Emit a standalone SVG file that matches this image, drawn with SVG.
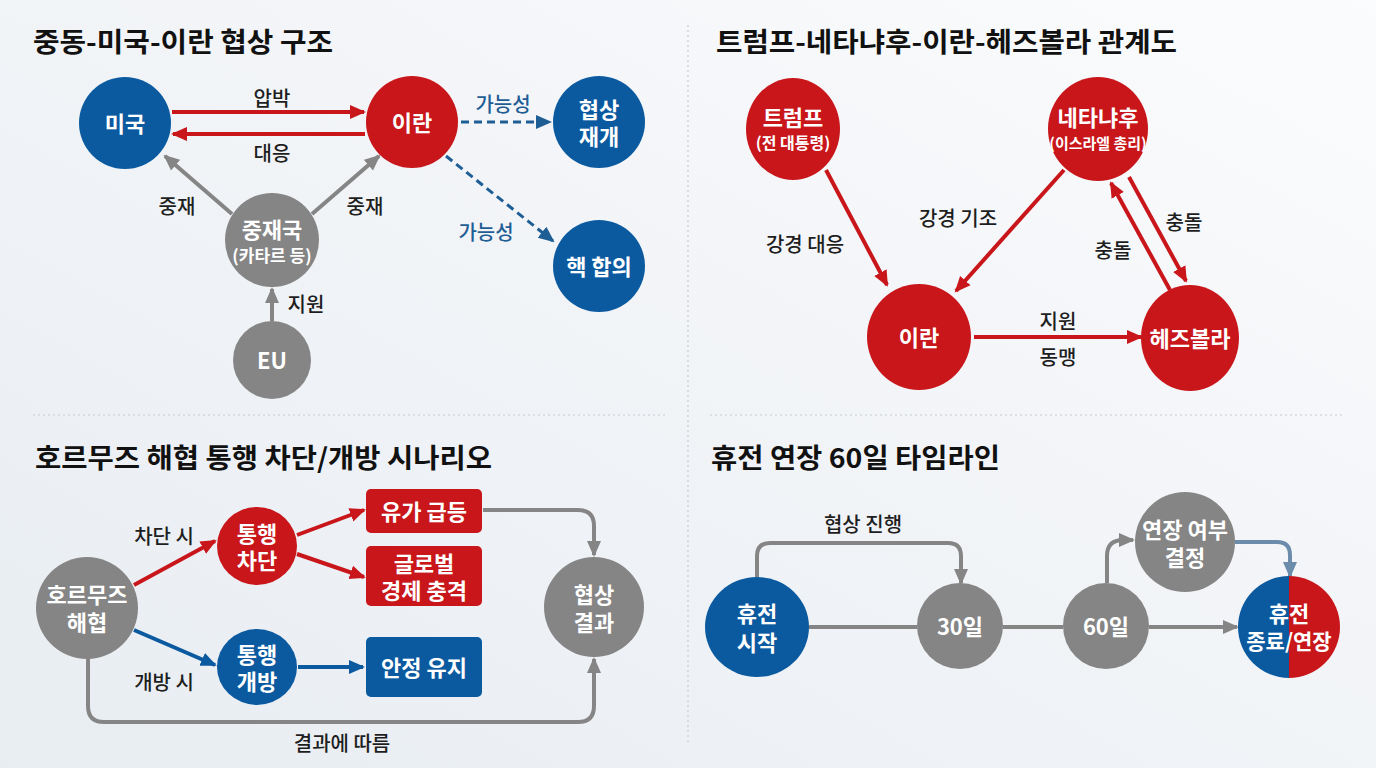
<svg xmlns="http://www.w3.org/2000/svg" width="1376" height="768" viewBox="0 0 1376 768">
<defs>
<linearGradient id="bg" x1="0" y1="1" x2="1" y2="0">
<stop offset="0" stop-color="#e8edf2"/>
<stop offset="0.6" stop-color="#f3f5f8"/>
<stop offset="1" stop-color="#fbfcfd"/>
</linearGradient>
<marker id="ar" markerUnits="userSpaceOnUse" markerWidth="18" markerHeight="16" refX="14" refY="8" orient="auto"><path d="M0,1 L16,8 L0,15 z" fill="#c8161b"/></marker>
<marker id="ab" markerUnits="userSpaceOnUse" markerWidth="18" markerHeight="16" refX="14" refY="8" orient="auto"><path d="M0,1 L16,8 L0,15 z" fill="#0b5aa0"/></marker>
<marker id="abd" markerUnits="userSpaceOnUse" markerWidth="18" markerHeight="16" refX="14" refY="8" orient="auto"><path d="M0,1 L16,8 L0,15 z" fill="#1f5d95"/></marker>
<marker id="ag" markerUnits="userSpaceOnUse" markerWidth="18" markerHeight="16" refX="14" refY="8" orient="auto"><path d="M0,1 L16,8 L0,15 z" fill="#858585"/></marker>
<marker id="abg" markerUnits="userSpaceOnUse" markerWidth="18" markerHeight="16" refX="14" refY="8" orient="auto"><path d="M0,1 L16,8 L0,15 z" fill="#6b8cab"/></marker>
</defs>
<style>
text{font-family:"Noto Sans CJK KR","Noto Sans",sans-serif}
.title{font-size:27px;font-weight:700;fill:#111}
.nt{font-size:22px;font-weight:700;fill:#fff;text-anchor:middle;dominant-baseline:central}
.ns{font-size:16px;font-weight:700;fill:#fff;text-anchor:middle;dominant-baseline:central}
.lb{font-size:20px;font-weight:500;fill:#1e1e1e;text-anchor:middle;dominant-baseline:central}
.lbb{font-size:20px;font-weight:500;fill:#1f5d95;text-anchor:middle;dominant-baseline:central}
.blue{fill:#0b5aa0}
.red{fill:#c8161b}
.gray{fill:#858585}
.cr{stroke:#c8161b;stroke-width:4;fill:none}
.cb{stroke:#0b5aa0;stroke-width:4;fill:none}
.cd{stroke:#1f5d95;stroke-width:3;fill:none;stroke-dasharray:8 5}
.cg{stroke:#858585;stroke-width:4;fill:none}
.cbg{stroke:#6b8cab;stroke-width:4;fill:none}
.div{stroke:#c6cbd1;stroke-width:1.2;stroke-dasharray:2 3;fill:none}
</style>
<rect x="0" y="0" width="1376" height="768" fill="url(#bg)"/>
<g id="dividers">
<line class="div" x1="688" y1="25" x2="688" y2="742"/>
<line class="div" x1="33" y1="415" x2="665" y2="415"/>
<line class="div" x1="710" y1="415" x2="1343" y2="415"/>
</g>
<g id="titles">
<text class="title" x="33" y="52" textLength="300" lengthAdjust="spacingAndGlyphs">중동-미국-이란 협상 구조</text>
<text class="title" x="716" y="52" textLength="461" lengthAdjust="spacingAndGlyphs">트럼프-네타냐후-이란-헤즈볼라 관계도</text>
<text class="title" x="35" y="468" textLength="457" lengthAdjust="spacingAndGlyphs">호르무즈 해협 통행 차단/개방 시나리오</text>
<text class="title" x="711" y="468" textLength="289" lengthAdjust="spacingAndGlyphs">휴전 연장 60일 타임라인</text>
</g>
<g id="connectors">
<path class="cr" d="M172,112 L364,112" marker-end="url(#ar)"/>
<path class="cr" d="M365,134 L173,134" marker-end="url(#ar)"/>
<path class="cd" d="M461,122 L550,122" marker-end="url(#abd)"/>
<path class="cd" d="M446,156 L553,241" marker-end="url(#abd)"/>
<path class="cg" d="M232,214 L165,156" marker-end="url(#ag)"/>
<path class="cg" d="M312,214 L379,156" marker-end="url(#ag)"/>
<path class="cg" d="M272,321 L272,289" marker-end="url(#ag)"/>
<path class="cr" d="M826,170 L887,285" marker-end="url(#ar)"/>
<path class="cr" d="M1064,170 L956,291" marker-end="url(#ar)"/>
<path class="cr" d="M1129,177 L1186,281" marker-end="url(#ar)"/>
<path class="cr" d="M1170,290 L1111,183" marker-end="url(#ar)"/>
<path class="cr" d="M974,337 L1141,337" marker-end="url(#ar)"/>
<path class="cr" d="M134,585 L215,541" marker-end="url(#ar)"/>
<path class="cr" d="M297,535 L364,510" marker-end="url(#ar)"/>
<path class="cr" d="M297,554 L364,577" marker-end="url(#ar)"/>
<path class="cb" d="M134,630 L215,665" marker-end="url(#ab)"/>
<path class="cb" d="M298,667 L363,667" marker-end="url(#ab)"/>
<path class="cg" d="M483,510 L578,510 Q594,510 594,526 L594,555" marker-end="url(#ag)"/>
<path class="cg" d="M88,658 L88,706 Q88,722 104,722 L578,722 Q594,722 594,706 L594,659" marker-end="url(#ag)"/>
<path class="cg" d="M809,627 L917,627"/>
<path class="cg" d="M1003,627 L1063,627"/>
<path class="cg" d="M1149,627 L1237,627" marker-end="url(#ag)"/>
<path class="cg" d="M757,577 L757,556 Q757,543 770,543 L948,543 Q961,543 961,556 L961,583" marker-end="url(#ag)"/>
<path class="cg" d="M1107,583 L1107,556 Q1107,540 1123,540 L1133,540" marker-end="url(#ag)"/>
<path class="cbg" d="M1235,542 L1277,542 Q1290,542 1290,555 L1290,576" marker-end="url(#abg)"/>
</g>
<g id="labels">
<text class="lb" x="272" y="97">압박</text>
<text class="lb" x="272" y="152">대응</text>
<text class="lbb" x="503" y="103">가능성</text>
<text class="lbb" x="486" y="231">가능성</text>
<text class="lb" x="177" y="205">중재</text>
<text class="lb" x="365" y="205">중재</text>
<text class="lb" x="306" y="303">지원</text>
<text class="lb" x="805" y="243">강경 대응</text>
<text class="lb" x="958" y="217">강경 기조</text>
<text class="lb" x="1184" y="221">충돌</text>
<text class="lb" x="1113" y="249">충돌</text>
<text class="lb" x="1058" y="320">지원</text>
<text class="lb" x="1058" y="356">동맹</text>
<text class="lb" x="164" y="535">차단 시</text>
<text class="lb" x="164" y="681">개방 시</text>
<text class="lb" x="342" y="742">결과에 따름</text>
<text class="lb" x="863" y="523">협상 진행</text>
</g>
<g id="n-usa"><circle class="blue" cx="125" cy="123" r="46"/><text class="nt" x="125" y="122">미국</text></g>
<g id="n-iran1"><circle class="red" cx="412" cy="122" r="46"/><text class="nt" x="412" y="121">이란</text></g>
<g id="n-resume"><circle class="blue" cx="599" cy="122" r="46"/><text class="nt" x="599" y="108"><tspan x="599">협상</tspan><tspan x="599" dy="27">재개</tspan></text></g>
<g id="n-nuke"><circle class="blue" cx="599" cy="266" r="46"/><text class="nt" x="599" y="265">핵 합의</text></g>
<g id="n-mediator"><circle class="gray" cx="272" cy="240" r="47"/><text class="nt" x="272" y="228"><tspan x="272">중재국</tspan><tspan x="272" dy="26" style="font-size:17px">(카타르 등)</tspan></text></g>
<g id="n-eu"><circle class="gray" cx="272" cy="360" r="39"/><text class="nt" x="272" y="359">EU</text></g>
<g id="n-trump"><ellipse class="red" cx="793" cy="129" rx="47" ry="51"/><text class="nt" x="793" y="116"><tspan x="793">트럼프</tspan><tspan x="793" dy="26" style="font-size:16px">(전 대통령)</tspan></text></g>
<g id="n-netanyahu"><ellipse class="red" cx="1098" cy="129" rx="50" ry="52"/><text class="nt" x="1098" y="116"><tspan x="1098">네타냐후</tspan><tspan x="1098" dy="26" style="font-size:15px">(이스라엘 총리)</tspan></text></g>
<g id="n-iran2"><ellipse class="red" cx="919" cy="337" rx="52" ry="53"/><text class="nt" x="919" y="336">이란</text></g>
<g id="n-hezbollah"><ellipse class="red" cx="1190" cy="338" rx="49" ry="53"/><text class="nt" x="1190" y="337">헤즈볼라</text></g>
<g id="n-hormuz"><circle class="gray" cx="87" cy="608" r="51"/><text class="nt" x="87" y="593"><tspan x="87">호르무즈</tspan><tspan x="87" dy="28">해협</tspan></text></g>
<g id="n-block"><ellipse class="red" cx="257" cy="546" rx="40" ry="39"/><text class="nt" x="257" y="532"><tspan x="257">통행</tspan><tspan x="257" dy="27">차단</tspan></text></g>
<g id="n-open"><ellipse class="blue" cx="257" cy="667" rx="40" ry="38"/><text class="nt" x="257" y="653"><tspan x="257">통행</tspan><tspan x="257" dy="27">개방</tspan></text></g>
<g id="n-oil"><rect class="red" x="366" y="489" width="116" height="44" rx="5"/><text class="nt" x="424" y="510">유가 급등</text></g>
<g id="n-shock"><rect class="red" x="366" y="546" width="116" height="60" rx="5"/><text class="nt" x="424" y="562"><tspan x="424">글로벌</tspan><tspan x="424" dy="27">경제 충격</tspan></text></g>
<g id="n-stable"><rect class="blue" x="366" y="637" width="116" height="60" rx="5"/><text class="nt" x="424" y="666">안정 유지</text></g>
<g id="n-result"><circle class="gray" cx="594" cy="607" r="50"/><text class="nt" x="594" y="593"><tspan x="594">협상</tspan><tspan x="594" dy="28">결과</tspan></text></g>
<g id="n-start"><ellipse class="blue" cx="757" cy="627" rx="52" ry="50"/><text class="nt" x="757" y="612"><tspan x="757">휴전</tspan><tspan x="757" dy="29">시작</tspan></text></g>
<g id="n-30"><circle class="gray" cx="960" cy="626" r="43"/><text class="nt" x="960" y="625">30일</text></g>
<g id="n-60"><circle class="gray" cx="1106" cy="626" r="43"/><text class="nt" x="1106" y="625">60일</text></g>
<g id="n-decide"><circle class="gray" cx="1185" cy="542" r="50"/><text class="nt" x="1185" y="528"><tspan x="1185">연장 여부</tspan><tspan x="1185" dy="28">결정</tspan></text></g>
<g id="n-end"><path class="blue" d="M1289,576 A51,51 0 0 0 1289,678 Z"/><path class="red" d="M1289,576 A51,51 0 0 1 1289,678 Z"/><text class="nt" x="1289" y="612"><tspan x="1289">휴전</tspan><tspan x="1289" dy="28" style="font-size:21px">종료/연장</tspan></text></g>
</svg>
